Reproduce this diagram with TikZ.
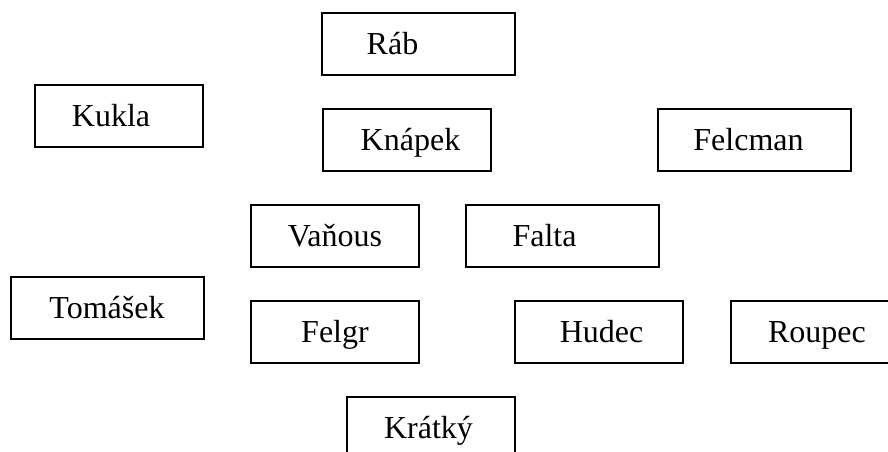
\documentclass[tikz,border=0pt]{standalone}
\usepackage{fontspec}
\setmainfont{Liberation Serif}
\begin{document}
\begin{tikzpicture}[x=.5pt, y=-.5pt, line width=1pt,
    box/.style={draw, minimum width=84pt, minimum height=31pt},
    wide/.style={box, minimum width=96.5pt},
    who/.style={font=\fontsize{16}{19}\selectfont, text height=12pt, text depth=2pt, inner sep=0pt}]
    \useasboundingbox (0, 0) rectangle (888, 451);
    \clip (0, 0) rectangle (888, 451);
    \node[wide, label={[who, xshift=-13pt]center:Ráb}] (rab) at (418.5, 44) {};
    \node[box, label={[who, xshift=-4pt]center:Kukla}] (kukla) at (119, 116) {};
    \node[box, label={[who, xshift=2pt]center:Knápek}] (knapek) at (406.5, 140) {};
    \node[wide, label={[who, xshift=-3pt]center:Felcman}] (felcman) at (754.5, 140) {};
    \node[box, label={[who]center:Vaňous}] (vanous) at (335, 236) {};
    \node[wide, label={[who, xshift=-9pt]center:Falta}] (falta) at (562.5, 236) {};
    \node[wide, label={[who]center:Tomášek}] (tomasek) at (107, 308) {};
    \node[box, label={[who]center:Felgr}] (felgr) at (335, 332) {};
    \node[box, label={[who, xshift=1.5pt]center:Hudec}] (hudec) at (598.5, 332) {};
    \node[box, label={[who, xshift=1pt]center:Roupec}] (roupec) at (815, 332) {};
    \node[box, label={[who, xshift=-1pt]center:Krátký}] (kratky) at (430.5, 428) {};
\end{tikzpicture}
\end{document}
